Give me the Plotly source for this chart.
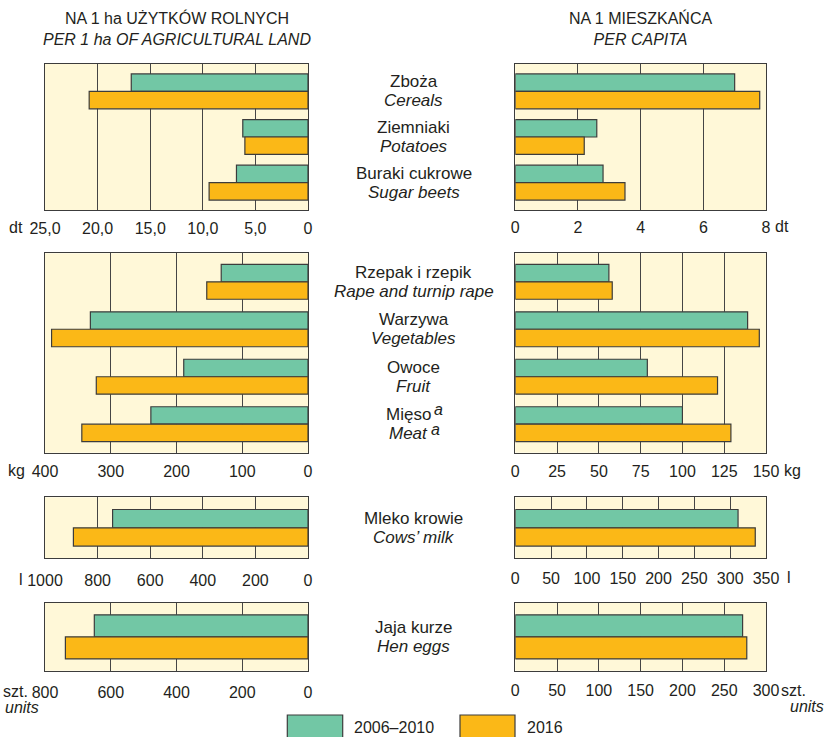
import plotly.graph_objects as go

# ---------------- data ----------------
series = ["2006–2010", "2016"]

cat1_pl = ["Zboża", "Ziemniaki", "Buraki cukrowe"]
cat1_en = ["Cereals", "Potatoes", "Sugar beets"]
ha1_a = [16.8, 6.2, 6.8]
ha1_b = [20.8, 6.0, 9.4]
cap1_a = [7.0, 2.6, 2.8]
cap1_b = [7.8, 2.2, 3.5]

cat2_pl = ["Rzepak i rzepik", "Warzywa", "Owoce", "Mięso"]
cat2_en = ["Rape and turnip rape", "Vegetables", "Fruit", "Meat"]
ha2_a = [132, 331, 189, 239]
ha2_b = [154, 390, 322, 344]
cap2_a = [56, 139, 79, 100]
cap2_b = [58, 146, 121, 129]

cat3_pl = ["Mleko krowie"]
cat3_en = ["Cows’ milk"]
ha3_a = [743]
ha3_b = [892]
cap3_a = [311]
cap3_b = [335]

cat4_pl = ["Jaja kurze"]
cat4_en = ["Hen eggs"]
ha4_a = [650]
ha4_b = [738]
cap4_a = [272]
cap4_b = [277]

footnoted = "Mięso"   # category carrying footnote mark "a"

ticks_ha1 = [0, 5, 10, 15, 20, 25]
ticktext_ha1 = ["0", "5,0", "10,0", "15,0", "20,0", "25,0"]
ticks_cap1 = [0, 2, 4, 6, 8]
ticks_ha2 = [0, 100, 200, 300, 400]
ticks_cap2 = [0, 25, 50, 75, 100, 125, 150]
ticks_ha3 = [0, 200, 400, 600, 800, 1000]
ticks_cap3 = [0, 50, 100, 150, 200, 250, 300, 350]
ticks_ha4 = [0, 200, 400, 600, 800]
ticks_cap4 = [0, 50, 100, 150, 200, 250, 300]

# ---------------- style ----------------
W, H = 827, 737
GREEN = "#72C7A5"
ORANGE = "#FBB817"
BG = "#FFF8D8"
LINE = "#3c3c3c"
GRID = "#454545"
TXT = "#231f20"
FONT = "Liberation Sans, Arial, sans-serif"
FS = 16
FS_LAB = 17


def px_x(p):
    return p / W


def px_y(p):
    return 1 - p / H


LEFT = [px_x(45), px_x(308)]
RIGHT = [px_x(515.3), px_x(766)]
ROWS = [(64, 210), (253.3, 452.7), (497.3, 558.3), (603, 670.7)]

panels = [
    (cat1_pl, ha1_a, ha1_b, cap1_a, cap1_b, 25, ticks_ha1, ticktext_ha1, 8, ticks_cap1, 0.383, [2.6, -0.6], 4, 3),
    (cat2_pl, ha2_a, ha2_b, cap2_a, cap2_b, 400, ticks_ha2, None, 150, ticks_cap2, 0.368, [3.6, -0.6], 4, 4),
    (cat3_pl, ha3_a, ha3_b, cap3_a, cap3_b, 1000, ticks_ha3, None, 350, ticks_cap3, 0.30, [0.5, -0.5], 7, 5),
    (cat4_pl, ha4_a, ha4_b, cap4_a, cap4_b, 800, ticks_ha4, None, 300, ticks_cap4, 0.326, [0.5, -0.5], 7, 5),
]

fig = go.Figure()
layout = dict(
    width=W, height=H,
    margin=dict(l=0, r=0, t=0, b=0, pad=0, autoexpand=False),
    paper_bgcolor="white",
    plot_bgcolor=BG,
    barmode="overlay",
    showlegend=False,
    font=dict(family=FONT, size=FS, color=TXT),
)


def axname(i):
    return "" if i == 1 else str(i)


ax = 1
for r, (cats, ha_a, ha_b, cap_a, cap_b, ha_max, ha_ticks, ha_text, cap_max, cap_ticks, bw, yr, so_l, so_r) in enumerate(panels):
    top, bot = ROWS[r]
    ydom = [px_y(bot), px_y(top)]
    for side in ("L", "R"):
        n = axname(ax)
        if side == "L":
            va, vb, rng, tv, tt, dom, so = ha_a, ha_b, [ha_max, 0], ha_ticks, ha_text, LEFT, so_l
        else:
            va, vb, rng, tv, tt, dom, so = cap_a, cap_b, [0, cap_max], cap_ticks, None, RIGHT, so_r
        for vals, col, nm, off in ((va, GREEN, series[0], -bw), (vb, ORANGE, series[1], 0.0)):
            fig.add_trace(go.Bar(
                y=cats, x=vals, orientation="h", name=nm,
                width=bw, offset=off,
                marker=dict(color=col, line=dict(color=LINE, width=1.2)),
                xaxis="x" + n, yaxis="y" + n, hoverinfo="x+y",
            ))
        xa = dict(
            domain=dom, range=rng, anchor="y" + n, automargin=False,
            tickmode="array", tickvals=tv,
            showgrid=True, gridcolor=GRID, gridwidth=1.4,
            zeroline=False, showline=True, mirror=True,
            linecolor=LINE, linewidth=1.4, ticks="",
            ticklabelstandoff=so,
            tickfont=dict(family=FONT, size=FS, color=TXT),
        )
        if tt is not None:
            xa["ticktext"] = tt
        ya = dict(
            domain=ydom, type="category", categoryorder="array", categoryarray=cats,
            range=yr, anchor="x" + n, showticklabels=False, ticks="", automargin=False,
            showgrid=False, zeroline=False, showline=True, mirror=True,
            linecolor=LINE, linewidth=1.4,
        )
        layout["xaxis" + n] = xa
        layout["yaxis" + n] = ya
        ax += 1

fig.update_layout(**layout)

ann = []
ann.append(dict(x=px_x(176.5), y=px_y(28), xref="paper", yref="paper",
                text="NA 1 ha UŻYTKÓW ROLNYCH<br><i>PER 1 ha OF AGRICULTURAL LAND</i>",
                showarrow=False, xanchor="center", yanchor="middle"))
ann.append(dict(x=px_x(640.6), y=px_y(28), xref="paper", yref="paper",
                text="NA 1 MIESZKAŃCA<br><i>PER CAPITA</i>",
                showarrow=False, xanchor="center", yanchor="middle"))

label_sets = [(cat1_pl, cat1_en, "y2"), (cat2_pl, cat2_en, "y4"), (cat3_pl, cat3_en, "y6"), (cat4_pl, cat4_en, "y8")]
for pl, en, yref in label_sets:
    for p, e in zip(pl, en):
        cx = 413.5
        if p == footnoted:
            cx = 408
            ann.append(dict(x=px_x(438.7), y=p, xref="paper", yref=yref, text="<i>a</i>", yshift=15,
                            font=dict(size=16), showarrow=False, xanchor="center", yanchor="middle"))
            ann.append(dict(x=px_x(436), y=p, xref="paper", yref=yref, text="<i>a</i>", yshift=-5.5,
                            font=dict(size=16), showarrow=False, xanchor="center", yanchor="middle"))
        ann.append(dict(x=px_x(cx), y=p, xref="paper", yref=yref, text=p, yshift=9.5,
                        font=dict(size=FS_LAB), showarrow=False, xanchor="center", yanchor="middle"))
        ann.append(dict(x=px_x(cx), y=p, xref="paper", yref=yref, text=f"<i>{e}</i>", yshift=-9.5,
                        font=dict(size=FS_LAB), showarrow=False, xanchor="center", yanchor="middle"))

units = [
    ("dt", 7, 227.5), ("kg", 6, 470.5), ("l", 17, 579),
    ("szt.", 1, 691.5), ("<i>units</i>", 3, 707),
    ("dt", 773, 226.5), ("kg", 782, 470.5), ("l", 785, 577.5),
    ("szt.", 779, 690), ("<i>units</i>", 788, 706),
]
for t, x, y in units:
    ann.append(dict(x=px_x(x), y=px_y(y), xref="paper", yref="paper", text=t,
                    showarrow=False, xanchor="left", yanchor="middle"))

shapes = []
for (x0, x1, tx, col, nm) in ((287.3, 342.7, 352, GREEN, series[0]), (460, 515, 525, ORANGE, series[1])):
    shapes.append(dict(type="rect", xref="paper", yref="paper",
                       x0=px_x(x0), x1=px_x(x1), y0=px_y(739), y1=px_y(715),
                       fillcolor=col, line=dict(color=LINE, width=1.2), layer="above"))
    ann.append(dict(x=px_x(tx), y=px_y(727), xref="paper", yref="paper", text=nm,
                    showarrow=False, xanchor="left", yanchor="middle"))

fig.update_layout(annotations=ann, shapes=shapes)
fig.write_html("out.html",
               config={"displayModeBar": False},
               post_script="document.body.style.margin='0px';document.body.style.overflow='hidden';")
